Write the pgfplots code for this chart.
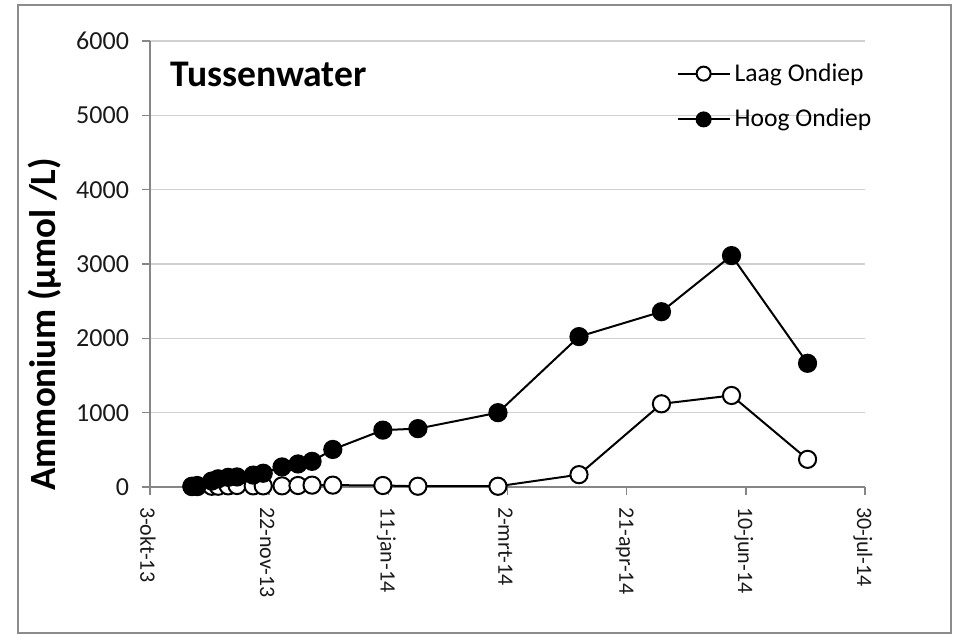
\documentclass[border=0pt]{standalone}
\usepackage{pgfplots}
\pgfplotsset{compat=1.18}
\usepackage{fontspec}
\setmainfont{Carlito}
\definecolor{axisgray}{HTML}{868686}
\definecolor{gridgray}{HTML}{D0D0D0}
\definecolor{framegray}{HTML}{8C8C8C}
\definecolor{txt}{HTML}{1A1A1A}

% dag 0 = 3-okt-13
\pgfplotstableread{
day  laag  hoog
17.6    5    10
19.8    5    20
25.9   10    80
28.6   10   110
32.8   15   130
36.5   20   135
43.3   15   160
47.5   15   185
55.4   15   270
62.1   20   310
68.0   25   345
76.7   25   505
97.7   20   765
112.4  10   785
146.0  10  1000
180.0 166  2023
214.6 1119 2358
244.0 1231 3113
275.9  372 1664
}\datatable

\begin{document}
\begin{tikzpicture}
\useasboundingbox (-75pt,-74pt) rectangle (402.5pt,243.5pt);
\draw[framegray, line width=0.8pt] (-66pt,-73pt) rectangle (400.5pt,241pt);
\begin{axis}[
  at={(0pt,0pt)}, anchor=south west,
  width=357.5pt, height=223pt, scale only axis,
  xmin=0, xmax=300, ymin=0, ymax=6000,
  xtick={0,50,...,300},
  xticklabels={3-okt-13,22-nov-13,11-jan-14,2-mrt-14,21-apr-14,10-jun-14,30-jul-14},
  ytick={0,1000,...,6000},
  scaled y ticks=false,
  /pgf/number format/set thousands separator={},
  /pgf/number format/assume math mode=true,
  axis x line*=bottom, axis y line*=left,
  axis line style={axisgray, line width=0.8pt, -},
  tick align=outside, major tick length=4pt,
  tick style={axisgray, line width=0.8pt},
  ymajorgrids, grid style={gridgray, line width=0.8pt},
  tick label style={text=txt},
  y tick label style={font=\fontsize{13}{15}\selectfont, xshift=-3pt},
  x tick label style={font=\fontsize{11}{13}\selectfont, yshift=-2.5pt, xshift=-1pt, rotate=-90, anchor=west},
  ylabel={Ammonium (µmol /L)},
  ylabel style={font=\bfseries\fontsize{18.5}{21}\selectfont, at={(axis description cs:-0.147,0.365)}, anchor=center, rotate=0},
  clip=false,
  legend cell align=left,
  legend style={at={(rel axis cs:0.736,0.96)}, anchor=north west, draw=none, fill=none,
    font=\fontsize{12.8}{15}\selectfont, row sep=8.5pt, inner sep=0pt},
  legend image code/.code={
    \draw[line width=1pt] (0pt,0pt) -- (26pt,0pt);
    \draw[#1, line width=1pt] plot[mark size=3.5pt] coordinates {(13pt,0pt)};
  },
]
\addplot[black, line width=1pt, mark=*, mark size=4.3pt, mark options={fill=white, draw=black, line width=1pt}]
  table[x=day, y=laag] {\datatable};
\addlegendentry{Laag Ondiep}
\addplot[black, line width=1pt, mark=*, mark size=4.3pt, mark options={fill=black, draw=black, line width=1pt}]
  table[x=day, y=hoog] {\datatable};
\addlegendentry{Hoog Ondiep}
\node[anchor=west, inner sep=0pt, font=\bfseries\fontsize{18.8}{22}\selectfont] at (rel axis cs:0.028,0.924) {Tussenwater};
\end{axis}
\end{tikzpicture}
\end{document}
